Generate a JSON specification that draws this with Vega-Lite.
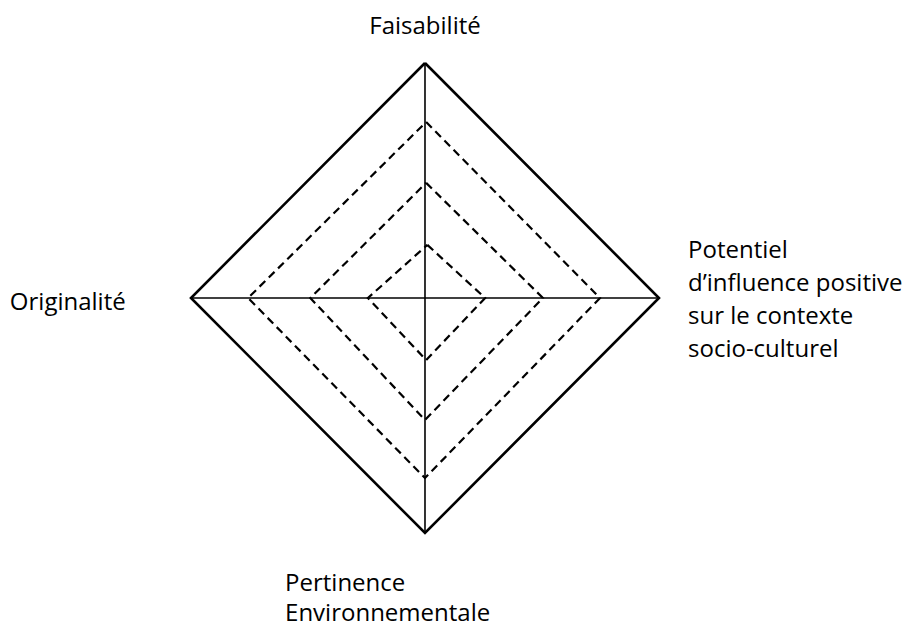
{
  "$schema": "https://vega.github.io/schema/vega-lite/v6.json",
  "width": 909,
  "height": 628,
  "autosize": "none",
  "padding": 0,
  "background": "white",
  "config": {"view": {"stroke": null}},
  "datasets": {
    "shapes": [
      {"shape": "outer", "kind": "solid", "o": 0, "x": 0, "y": 1},
      {"shape": "outer", "kind": "solid", "o": 1, "x": 1, "y": 0},
      {"shape": "outer", "kind": "solid", "o": 2, "x": 0, "y": -1},
      {"shape": "outer", "kind": "solid", "o": 3, "x": -1, "y": 0},
      {"shape": "outer", "kind": "solid", "o": 4, "x": 0, "y": 1},
      {"shape": "d75", "kind": "dash", "o": 0, "x": 0.005, "y": 0.749},
      {"shape": "d75", "kind": "dash", "o": 1, "x": 0.748, "y": 0},
      {"shape": "d75", "kind": "dash", "o": 2, "x": 0, "y": -0.766},
      {"shape": "d75", "kind": "dash", "o": 3, "x": -0.756, "y": 0},
      {"shape": "d75", "kind": "dash", "o": 4, "x": 0.005, "y": 0.749},
      {"shape": "d50", "kind": "dash", "o": 0, "x": 0.005, "y": 0.49},
      {"shape": "d50", "kind": "dash", "o": 1, "x": 0.504, "y": 0},
      {"shape": "d50", "kind": "dash", "o": 2, "x": 0, "y": -0.519},
      {"shape": "d50", "kind": "dash", "o": 3, "x": -0.49, "y": 0},
      {"shape": "d50", "kind": "dash", "o": 4, "x": 0.005, "y": 0.49},
      {"shape": "d25", "kind": "dash", "o": 0, "x": 0.01, "y": 0.226},
      {"shape": "d25", "kind": "dash", "o": 1, "x": 0.257, "y": 0},
      {"shape": "d25", "kind": "dash", "o": 2, "x": 0.005, "y": -0.264},
      {"shape": "d25", "kind": "dash", "o": 3, "x": -0.244, "y": 0},
      {"shape": "d25", "kind": "dash", "o": 4, "x": 0.01, "y": 0.226},
      {"shape": "axisH", "kind": "axis", "o": 0, "x": -1, "y": 0},
      {"shape": "axisH", "kind": "axis", "o": 1, "x": 1, "y": 0},
      {"shape": "axisV", "kind": "axis", "o": 0, "x": 0, "y": 1},
      {"shape": "axisV", "kind": "axis", "o": 1, "x": 0, "y": -1}
    ],
    "labels": [
      {"label": "Faisabilité", "x": 0, "y": 1.123, "align": "center"},
      {"label": "Potentiel\nd’influence positive\nsur le contexte\nsocio-culturel", "x": 1.124, "y": 0.171, "align": "left"},
      {"label": "Originalité", "x": -1.774, "y": -0.051, "align": "left"},
      {"label": "Pertinence\nEnvironnementale", "x": -0.598, "y": -1.247, "align": "bottom"}
    ]
  },
  "layer": [
    {
      "data": {"name": "shapes"},
      "transform": [{"filter": "datum.kind === 'axis'"}],
      "mark": {"type": "line", "color": "#000", "strokeWidth": 1.6, "clip": false},
      "encoding": {
        "x": {"field": "x", "type": "quantitative", "scale": {"domain": [-1.8162, 2.0684], "nice": false, "zero": false}, "axis": null},
        "y": {"field": "y", "type": "quantitative", "scale": {"domain": [-1.4043, 1.2681], "nice": false, "zero": false}, "axis": null},
        "detail": {"field": "shape"},
        "order": {"field": "o", "type": "quantitative"}
      }
    },
    {
      "data": {"name": "shapes"},
      "transform": [{"filter": "datum.kind === 'dash'"}],
      "mark": {"type": "line", "color": "#000", "strokeWidth": 2.2, "strokeDash": [8, 5], "strokeJoin": "miter"},
      "encoding": {
        "x": {"field": "x", "type": "quantitative"},
        "y": {"field": "y", "type": "quantitative"},
        "detail": {"field": "shape"},
        "order": {"field": "o", "type": "quantitative"}
      }
    },
    {
      "data": {"name": "shapes"},
      "transform": [{"filter": "datum.kind === 'solid'"}],
      "mark": {"type": "line", "color": "#000", "strokeWidth": 2.6, "strokeJoin": "miter"},
      "encoding": {
        "x": {"field": "x", "type": "quantitative"},
        "y": {"field": "y", "type": "quantitative"},
        "detail": {"field": "shape"},
        "order": {"field": "o", "type": "quantitative"}
      }
    },
    {
      "data": {"name": "labels"},
      "transform": [{"filter": "datum.align === 'center'"}],
      "mark": {"type": "text", "align": "center", "font": "Open Sans", "fontSize": 24, "color": "#000", "baseline": "alphabetic", "lineBreak": "\n", "lineHeight": 33},
      "encoding": {
        "x": {"field": "x", "type": "quantitative"},
        "y": {"field": "y", "type": "quantitative"},
        "text": {"field": "label"}
      }
    },
    {
      "data": {"name": "labels"},
      "transform": [{"filter": "datum.align === 'left'"}],
      "mark": {"type": "text", "align": "left", "font": "Open Sans", "fontSize": 24, "color": "#000", "baseline": "alphabetic", "lineBreak": "\n", "lineHeight": 33},
      "encoding": {
        "x": {"field": "x", "type": "quantitative"},
        "y": {"field": "y", "type": "quantitative"},
        "text": {"field": "label"}
      }
    },
    {
      "data": {"name": "labels"},
      "transform": [{"filter": "datum.align === 'bottom'"}],
      "mark": {"type": "text", "align": "left", "font": "Open Sans", "fontSize": 24, "color": "#000", "baseline": "alphabetic", "lineBreak": "\n", "lineHeight": 30},
      "encoding": {
        "x": {"field": "x", "type": "quantitative"},
        "y": {"field": "y", "type": "quantitative"},
        "text": {"field": "label"}
      }
    }
  ]
}
